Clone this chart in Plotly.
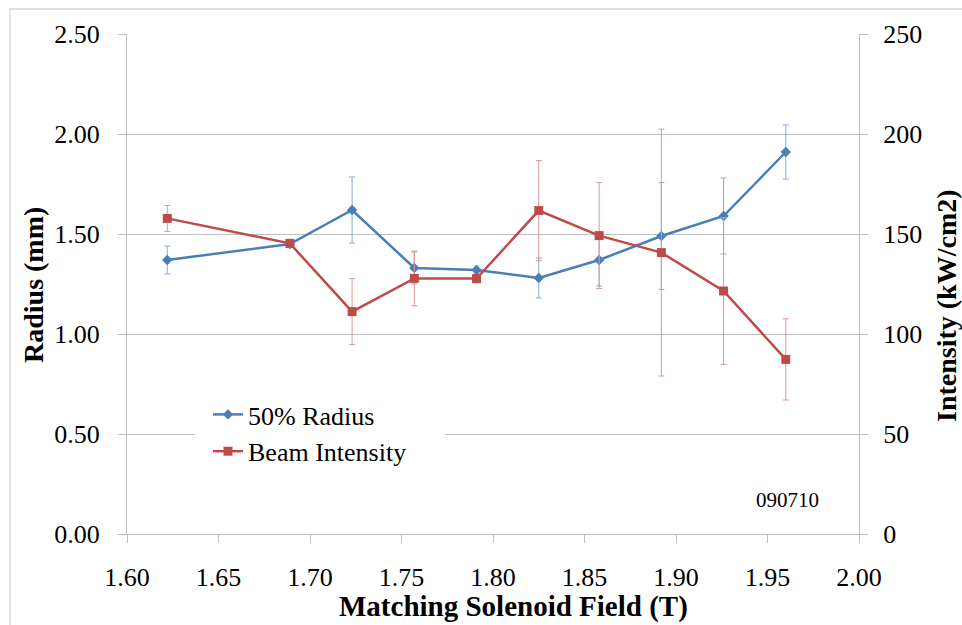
import plotly.graph_objects as go

# Solenoid field scan: beam radius and peak intensity
field = [1.622, 1.689, 1.723, 1.757, 1.791, 1.825, 1.858, 1.892, 1.926, 1.960]
radius = [1.37, 1.45, 1.62, 1.33, 1.32, 1.28, 1.37, 1.49, 1.59, 1.91]
radius_err = [0.07, 0.01, 0.165, 0.08, 0.02, 0.10, 0.13, 0.267, 0.19, 0.135]
intensity = [157.8, 145.3, 111.2, 127.8, 127.7, 161.7, 149.2, 140.7, 121.5, 87.3]
intensity_err = [6.5, 2.0, 16.5, 13.7, 2.0, 25.0, 26.5, 61.7, 36.7, 20.3]

x_ticks = [1.60, 1.65, 1.70, 1.75, 1.80, 1.85, 1.90, 1.95, 2.00]
radius_ticks = [0.0, 0.5, 1.0, 1.5, 2.0, 2.5]
intensity_ticks = [0, 50, 100, 150, 200, 250]

BLUE = "#4A7EBB"
RED = "#BE4B48"
GRID = "#BFBFBF"
FONT = "Times New Roman, Liberation Serif, DejaVu Serif, serif"

W, H = 962, 625
ML, MR, MT, MB = 127, 103, 34, 91
PW, PH = W - ML - MR, H - MT - MB


def px(x):
    return (x - ML) / PW


def py(y):
    return (H - MB - y) / PH


fig = go.Figure()

fig.add_trace(go.Scatter(
    x=field, y=radius, name="50% Radius", mode="lines+markers",
    line=dict(color=BLUE, width=2.5),
    marker=dict(symbol="diamond", size=8, color=BLUE),
    error_y=dict(type="data", array=radius_err, color="#86AADB", thickness=1, width=3),
))

fig.add_trace(go.Scatter(
    x=field, y=intensity, name="Beam Intensity", mode="lines+markers",
    yaxis="y2",
    line=dict(color=RED, width=2.5),
    marker=dict(symbol="square", size=9, color=RED),
    error_y=dict(type="data", array=intensity_err, color="#DC9896", thickness=1, width=3),
))

axis_font = dict(family=FONT, size=26, color="#000000")

fig.update_layout(
    width=W, height=H,
    margin=dict(l=ML, r=MR, t=MT, b=MB),
    paper_bgcolor="white", plot_bgcolor="white",
    font=dict(family=FONT, color="#000000"),
    showlegend=True,
    legend=dict(
        x=px(208), y=py(391), xanchor="left", yanchor="top",
        bgcolor="white", borderwidth=0,
        font=dict(family=FONT, size=26, color="#000000"),
        traceorder="normal",
    ),
    xaxis=dict(
        range=[1.6, 2.0], tickvals=x_ticks, ticktext=[f"{v:.2f}" for v in x_ticks],
        showline=True, linecolor=GRID, linewidth=1.3,
        ticks="outside", ticklen=8, tickcolor=GRID, tickwidth=1.3,
        ticklabelstandoff=12,
        showgrid=False, zeroline=False, tickfont=axis_font,
    ),
    yaxis=dict(
        range=[0, 2.5], tickvals=radius_ticks, ticktext=[f"{v:.2f}" for v in radius_ticks],
        showline=True, linecolor=GRID, linewidth=1.3,
        ticks="outside", ticklen=8, tickcolor=GRID, tickwidth=1.3,
        ticklabelstandoff=13,
        showgrid=True, gridcolor=GRID, gridwidth=1.3, zeroline=False,
        tickfont=axis_font,
    ),
    yaxis2=dict(
        range=[0, 250], tickvals=intensity_ticks, ticktext=[str(v) for v in intensity_ticks],
        overlaying="y", side="right",
        showline=True, linecolor=GRID, linewidth=1.3,
        ticks="outside", ticklen=8, tickcolor=GRID, tickwidth=1.3,
        ticklabelstandoff=10,
        showgrid=False, zeroline=False, tickfont=axis_font,
    ),
)

# chart frame
fig.add_shape(type="rect", xref="paper", yref="paper",
              x0=px(10), x1=px(1010), y0=py(700), y1=py(9),
              line=dict(color="#D4D4D4", width=1.3), fillcolor="rgba(0,0,0,0)",
              layer="below")

# white panel behind the legend, hiding the gridline there
fig.add_shape(type="rect", xref="paper", yref="paper",
              x0=px(195), x1=px(445), y0=py(446), y1=py(424),
              line=dict(width=0), fillcolor="white", layer="above")

title_font = dict(family=FONT, size=28, color="#000000")
fig.add_annotation(text="<b>Radius (mm)</b>", xref="paper", yref="paper",
                   x=px(33), y=py(285), textangle=-90, showarrow=False,
                   xanchor="center", yanchor="middle", font=title_font)
fig.add_annotation(text="<b>Intensity (kW/cm2)</b>", xref="paper", yref="paper",
                   x=px(946), y=py(306), textangle=-90, showarrow=False,
                   xanchor="center", yanchor="middle", font=title_font)
fig.add_annotation(text="<b>Matching Solenoid Field (T)</b>", xref="paper", yref="paper",
                   x=px(513), y=py(606), showarrow=False,
                   xanchor="center", yanchor="middle",
                   font=dict(family=FONT, size=29, color="#000000"))
fig.add_annotation(text="090710", xref="paper", yref="paper",
                   x=px(787), y=py(500), showarrow=False,
                   xanchor="center", yanchor="middle",
                   font=dict(family=FONT, size=21, color="#000000"))

fig.write_html("out.html")
